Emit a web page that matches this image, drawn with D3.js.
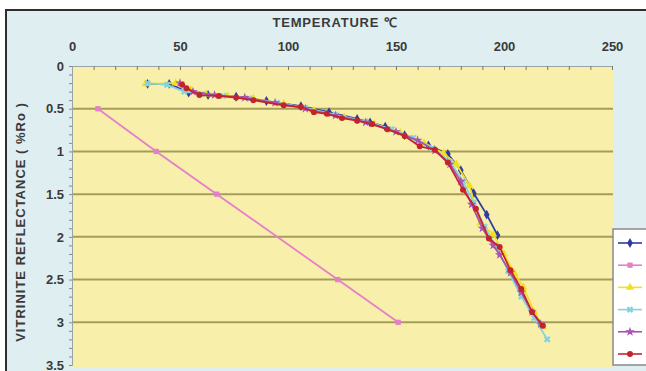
<!DOCTYPE html>
<html>
<head>
<meta charset="utf-8">
<script src="https://cdn.jsdelivr.net/npm/d3@7"></script>
<style>
	body { margin: 0; background: #ffffff; }
	svg { display: block; }
	text { font-family: "Liberation Sans", Arial, sans-serif; font-weight: bold; fill: #3a3a3a; }
</style>
</head>
<body>
<svg id="chart" width="646" height="371"></svg>
<script>
// temperature (C) vs vitrinite reflectance (%Ro)
var xTicks = [0, 50, 100, 150, 200, 250];
var yTicks = [0, 0.5, 1, 1.5, 2, 2.5, 3, 3.5];

var blue = [[35,0.21],[45,0.21],[54,0.31],[63,0.34],[76,0.36],[90,0.41],[106,0.47],[119,0.54],[132,0.62],[138,0.66],[145,0.71],[154,0.81],[165,0.93],[174,1.03],[180,1.22],[186,1.49],[192,1.74],[197,1.98]];
var pink = [[12,0.5],[39,1.0],[67,1.5],[123,2.5],[151,3.0]];
var yellow = [[34,0.21],[48,0.2],[55,0.28],[62,0.33],[72,0.35],[84,0.38],[98,0.44],[112,0.52],[126,0.6],[140,0.68],[152,0.78],[163,0.9],[172,1.02],[178,1.15],[184,1.4],[189,1.84],[195,1.97],[200,2.2],[205,2.43],[209,2.59],[214,2.88],[218,3.05]];
var cyan = [[35,0.2],[44,0.22],[52,0.3],[60,0.33],[70,0.35],[82,0.38],[95,0.43],[108,0.49],[122,0.57],[136,0.65],[148,0.74],[158,0.84],[167,0.96],[175,1.12],[181,1.35],[186,1.6],[191,1.88],[196,2.1],[202,2.4],[208,2.7],[214,2.95],[220,3.2]];
var purple = [[50,0.2],[56,0.3],[66,0.34],[80,0.37],[94,0.43],[108,0.5],[122,0.58],[136,0.66],[150,0.77],[160,0.87],[168,0.99],[175,1.15],[180,1.35],[185,1.62],[190,1.9],[195,2.1],[198,2.21],[203,2.42],[208,2.65],[213,2.88],[217,3.02]];
var red = [[51,0.22],[53,0.26],[59,0.34],[68,0.35],[76,0.37],[84,0.4],[98,0.46],[106,0.48],[112,0.54],[118,0.56],[125,0.61],[132,0.64],[139,0.68],[146,0.74],[154,0.82],[161,0.94],[168,0.98],[174,1.13],[181,1.45],[187,1.67],[193,2.02],[198,2.12],[203,2.39],[208,2.61],[213,2.88],[218,3.04]];

var series = [
	{data: blue, color: "#2f3c9e", symbol: d3.symbolDiamond},
	{data: pink, color: "#e57fcb", symbol: d3.symbolSquare},
	{data: yellow, color: "#f2e01c", symbol: d3.symbolTriangle},
	{data: cyan, color: "#86d2dc", symbol: d3.symbolCross},
	{data: purple, color: "#a852b4", symbol: d3.symbolStar},
	{data: red, color: "#c4232e", symbol: d3.symbolCircle}
];

var svg = d3.select("#chart");

// chart background + frame
svg.append("rect").attr("x", 6).attr("y", 10).attr("width", 700).attr("height", 400)
	.attr("fill", "#dfeef0").attr("stroke", "#2e2e2e").attr("stroke-width", 2);

var x = d3.scaleLinear().domain([0, 250]).range([72, 612]);
var y = d3.scaleLinear().domain([0, 3.5]).range([66, 365]);

// plot area
svg.append("rect").attr("x", x(0)).attr("y", y(0))
	.attr("width", x(250) - x(0) + 1).attr("height", 301)
	.attr("fill", "#f8f0aa");

// gridlines
svg.append("g").selectAll("line").data(yTicks.slice(1, 7)).join("line")
	.attr("x1", x(0)).attr("x2", x(250) + 1)
	.attr("y1", function(d){ return y(d); }).attr("y2", function(d){ return y(d); })
	.attr("stroke", "#a89c5c").attr("stroke-width", 2);

// top axis labels
var xAxisG = svg.append("g").attr("transform", "translate(0," + y(0) + ")")
	.call(d3.axisTop(x).tickValues(xTicks).tickSize(0).tickPadding(15));
xAxisG.select(".domain").remove();
xAxisG.selectAll("text").attr("font-size", "13px").attr("font-family", null).attr("fill", "#3a3a3a");

// top minor ticks (inside)
var xMinor = svg.append("g").attr("transform", "translate(0," + y(0) + ")")
	.call(d3.axisBottom(x).ticks(25).tickSize(4).tickFormat(""));
xMinor.select(".domain").attr("stroke", "#9aa4a8");
xMinor.selectAll("line").attr("stroke", "#777");

// left axis
var yAxisG = svg.append("g").attr("transform", "translate(" + x(0) + ",0)")
	.call(d3.axisLeft(y).tickValues(yTicks).tickSize(0).tickPadding(8).tickFormat(d3.format("")));
yAxisG.select(".domain").remove();
yAxisG.selectAll("text").attr("font-size", "13px").attr("font-family", null).attr("fill", "#3a3a3a");

var yMinor = svg.append("g").attr("transform", "translate(" + x(0) + ",0)")
	.call(d3.axisLeft(y).ticks(35).tickSize(3).tickFormat(""));
yMinor.select(".domain").attr("stroke", "#9aa4a8");
yMinor.selectAll("line").attr("stroke", "#888");

// titles
svg.append("text").attr("x", 335).attr("y", 27).attr("text-anchor", "middle")
	.attr("font-size", "13px").attr("letter-spacing", "0.8px").text("TEMPERATURE \u2103");
svg.append("text").attr("transform", "translate(25,222) rotate(-90)")
	.attr("text-anchor", "middle").attr("font-size", "13px").attr("letter-spacing", "1px")
	.text("VITRINITE REFLECTANCE ( %Ro )");

// series
var line = d3.line().x(function(d){ return x(d[0]); }).y(function(d){ return y(d[1]); });

series.forEach(function(s){
	var g = svg.append("g");
	g.append("path").datum(s.data).attr("d", line)
		.attr("fill", "none").attr("stroke", s.color).attr("stroke-width", 1.8);
	g.selectAll("path.mk").data(s.data).join("path").attr("class", "mk")
		.attr("transform", function(d){
			var r = s.symbol === d3.symbolCross ? 45 : 0;
			return "translate(" + x(d[0]) + "," + y(d[1]) + ") rotate(" + r + ")";
		})
		.attr("d", d3.symbol().type(s.symbol).size(28))
		.attr("fill", s.color);
});

// legend (labels fall outside the picture)
var lg = svg.append("g");
lg.append("rect").attr("x", 613).attr("y", 229).attr("width", 60).attr("height", 136)
	.attr("fill", "#ffffff").attr("stroke", "#8a8a8a").attr("stroke-width", 1.5);
series.forEach(function(s, i){
	var ly = 243 + i * 22.2;
	lg.append("line").attr("x1", 618).attr("x2", 642).attr("y1", ly).attr("y2", ly)
		.attr("stroke", s.color).attr("stroke-width", 1.6);
	lg.append("path").attr("transform", "translate(630," + ly + ") rotate(" + (s.symbol === d3.symbolCross ? 45 : 0) + ")")
		.attr("d", d3.symbol().type(s.symbol).size(28)).attr("fill", s.color);
});
</script>
</body>
</html>
